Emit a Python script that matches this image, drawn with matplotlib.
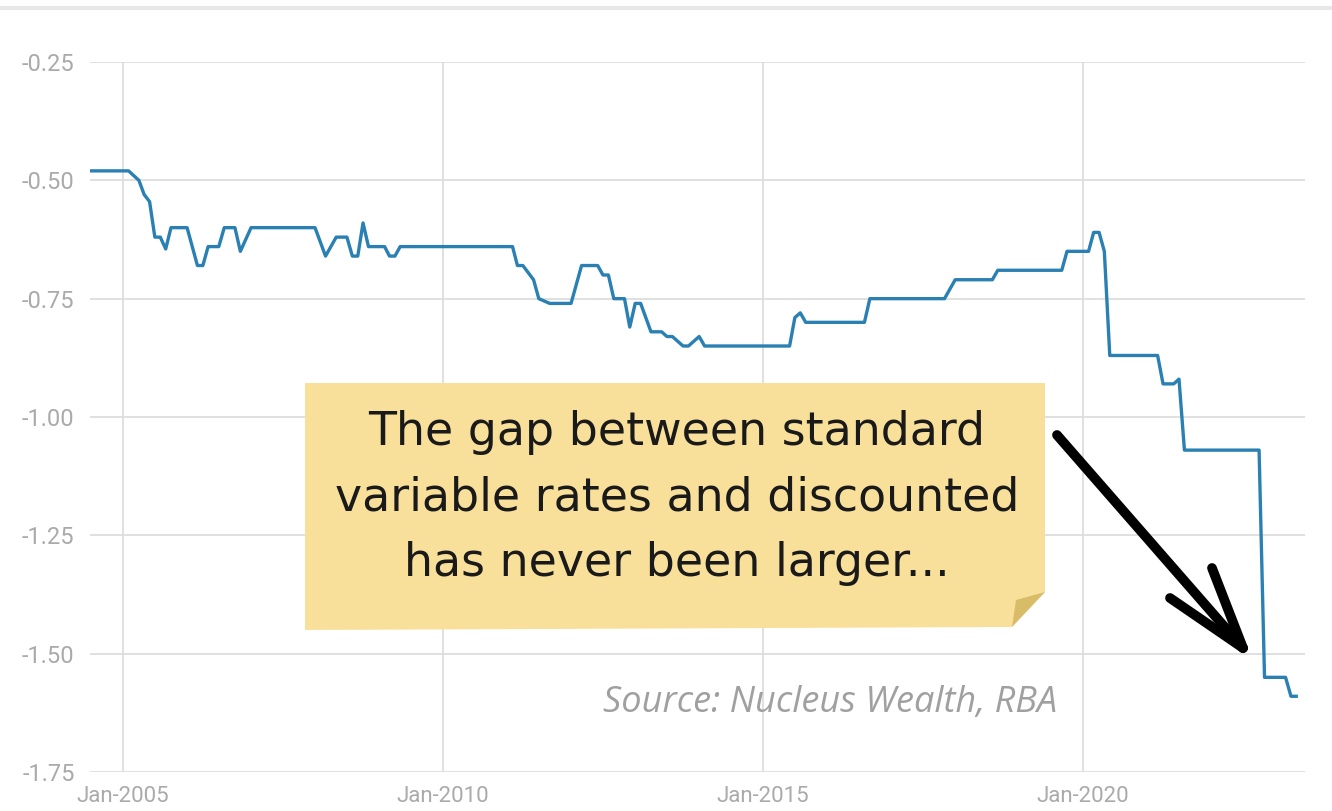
import matplotlib
matplotlib.use('Agg')
import matplotlib.pyplot as plt
import matplotlib.dates as mdates
from matplotlib.lines import Line2D
from matplotlib.patches import Polygon
import pandas as pd

plt.rcParams['axes.unicode_minus'] = False

# gap between standard variable and discounted rates
dates = ['2004-07', '2005-02', '2005-04', '2005-05', '2005-06', '2005-07', '2005-08', '2005-09',
         '2005-10', '2006-01', '2006-03', '2006-04', '2006-05', '2006-07', '2006-08', '2006-10',
         '2006-11', '2007-01', '2008-01', '2008-03', '2008-05', '2008-07', '2008-08', '2008-09',
         '2008-10', '2008-11', '2009-02', '2009-03', '2009-04', '2009-05', '2011-02', '2011-03',
         '2011-04', '2011-06', '2011-07', '2011-09', '2012-01', '2012-03', '2012-06', '2012-07',
         '2012-08', '2012-09', '2012-11', '2012-12', '2013-01', '2013-02', '2013-04', '2013-06',
         '2013-07', '2013-08', '2013-10', '2013-11', '2014-01', '2014-02', '2015-06', '2015-07',
         '2015-08', '2015-09', '2016-08', '2016-09', '2017-11', '2018-01', '2018-08', '2018-09',
         '2019-09', '2019-10', '2020-02', '2020-03', '2020-04', '2020-05', '2020-06', '2021-03',
         '2021-04', '2021-06', '2021-07', '2021-08', '2022-10', '2022-11', '2023-03', '2023-04',
         '2023-05']
gap = [-0.48, -0.48, -0.50, -0.53, -0.545, -0.62, -0.62, -0.645, -0.60, -0.60, -0.68, -0.68,
       -0.64, -0.64, -0.60, -0.60, -0.65, -0.60, -0.60, -0.66, -0.62, -0.62, -0.66, -0.66,
       -0.59, -0.64, -0.64, -0.66, -0.66, -0.64, -0.64, -0.68, -0.68, -0.71, -0.75, -0.76,
       -0.76, -0.68, -0.68, -0.70, -0.70, -0.75, -0.75, -0.81, -0.76, -0.76, -0.82, -0.82,
       -0.83, -0.83, -0.85, -0.85, -0.83, -0.85, -0.85, -0.79, -0.78, -0.80, -0.80, -0.75,
       -0.75, -0.71, -0.71, -0.69, -0.69, -0.65, -0.65, -0.61, -0.61, -0.65, -0.87, -0.87,
       -0.93, -0.93, -0.92, -1.07, -1.07, -1.55, -1.55, -1.59, -1.59]
yticks = [-1.75, -1.50, -1.25, -1.00, -0.75, -0.50, -0.25]
xticks = ['2005-01-01', '2010-01-01', '2015-01-01', '2020-01-01']

W, H = 1332, 811
fig = plt.figure(figsize=(W / 100, H / 100), dpi=100)
ax = fig.add_axes([90 / W, 1 - 772 / H, (1305 - 90) / W, (772 - 62) / H])

s = pd.Series(gap, index=pd.to_datetime(dates))
ax.plot(s.index, s.values, color='#2a80b2', lw=2.4, zorder=3)

ax.set_ylim(-1.75, -0.25)
ax.set_xlim(pd.Timestamp('2004-06-26'), pd.Timestamp('2023-06-20'))
ax.set_yticks(yticks)
ax.set_xticks(pd.to_datetime(xticks))
ax.xaxis.set_major_formatter(mdates.DateFormatter('%b-%Y'))
ax.yaxis.set_major_formatter(plt.FormatStrFormatter('%.2f'))
ax.grid(True, color='#dddddd', lw=1.3)
ax.set_axisbelow(True)
for sp in ax.spines.values():
    sp.set_visible(False)
ax.tick_params(length=0, colors='#aaaaaa', labelsize=16, pad=10)
ax.tick_params(axis='y', labelsize=17, pad=11)
for lab in ax.get_xticklabels() + ax.get_yticklabels():
    lab.set_fontfamily('Roboto')

def fx(px):
    return px / W

def fy(py):
    return 1 - py / H

# thin rule at the top of the image
fig.add_artist(Line2D([0, 1], [fy(8), fy(8)], color='#e8e8e8', lw=3))

# sticky note
box = [(305, 383), (1045, 383), (1045, 592), (1012, 627), (305, 630)]
fig.add_artist(Polygon([(fx(a), fy(b)) for a, b in box], closed=True,
                       facecolor='#f9e09a', edgecolor='none', zorder=4))
fold = [(1045, 592), (1012, 627), (1016, 600)]
fig.add_artist(Polygon([(fx(a), fy(b)) for a, b in fold], closed=True,
                       facecolor='#d8bc68', edgecolor='none', zorder=5))
fig.text(fx(677), fy(498),
         'The gap between standard\nvariable rates and discounted\nhas never been larger...',
         ha='center', va='center', fontsize=33, color='#1a1a1a', linespacing=1.58,
         family='DejaVu Sans', zorder=6)

# hand drawn arrow
for seg in [((1057, 435), (1243, 648)), ((1170, 598), (1243, 648)), ((1212, 568), (1243, 648))]:
    (x0, y0), (x1, y1) = seg
    fig.add_artist(Line2D([fx(x0), fx(x1)], [fy(y0), fy(y1)], color='black', lw=7,
                          solid_capstyle='round', zorder=6))

fig.text(fx(830), fy(703), 'Source: Nucleus Wealth, RBA', ha='center', va='center',
         fontsize=26, style='italic', color='#a0a0a0', family='Open Sans')

fig.savefig('out.png', dpi=100)
